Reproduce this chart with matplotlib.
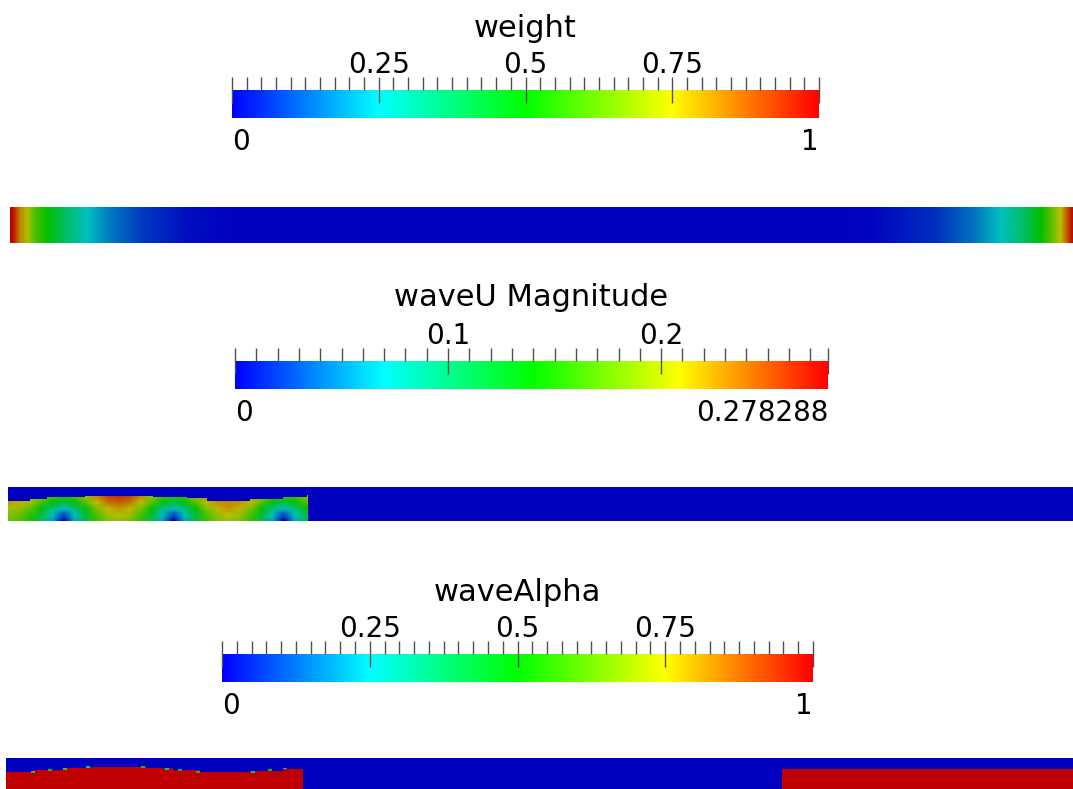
import numpy as np
import matplotlib
matplotlib.use("Agg")
import matplotlib.pyplot as plt
from matplotlib.colors import LinearSegmentedColormap, Normalize, hsv_to_rgb
from matplotlib.image import NonUniformImage
from matplotlib.cm import ScalarMappable
from matplotlib.patches import Rectangle

# ---------------------------------------------------------------- data
# relaxation weight along the flume (position along strip, weight)
weight_x = [0, 3, 6, 10, 17, 25, 37, 55, 77, 100, 130, 175, 230,
            813, 863, 923, 963, 990, 1013, 1030, 1041, 1050, 1055, 1060, 1063]
weight = [1.0, 0.97, 0.90, 0.82, 0.72, 0.60, 0.50, 0.37, 0.25, 0.16, 0.08, 0.02, 0.0,
          0.0, 0.01, 0.06, 0.15, 0.25, 0.37, 0.50, 0.62, 0.75, 0.85, 0.95, 1.0]

# waveU magnitude [m/s] sampled on columns (x) and levels above the bed (z)
waveU_x = [0, 11, 22, 33, 44, 55, 66, 77, 88, 99, 110, 121, 132, 143,
           154, 165, 176, 187, 198, 209, 220, 231, 242, 253, 264, 275, 286, 299]
waveU_z = [0, 6, 12, 18, 25.5]
u_bed = [.178, .170, .148, .108, .061, .000, .061, .114, .159, .186, .195, .186, .159, .114,
         .061, .000, .061, .114, .159, .186, .195, .186, .159, .114, .061, .000, .061, .114]
u_low = [.185, .178, .156, .117, .070, .028, .070, .122, .167, .195, .206, .195, .167, .122,
         .070, .028, .070, .122, .167, .195, .206, .195, .167, .122, .070, .028, .070, .122]
u_mid = [.200, .192, .174, .136, .095, .070, .095, .142, .184, .211, .223, .211, .184, .142,
         .095, .070, .095, .142, .184, .211, .223, .211, .184, .142, .095, .070, .095, .142]
u_upper = [.220, .214, .196, .164, .134, .117, .134, .170, .209, .234, .242, .234, .209, .170,
           .134, .117, .134, .170, .209, .223, .228, .223, .209, .170, .134, .117, .134, .170]
u_top = [.236, .232, .215, .189, .167, .153, .167, .197, .231, .256, .264, .256, .231, .197,
         .167, .153, .167, .197, .231, .239, .245, .239, .231, .197, .167, .153, .167, .197]
waveU_max = 0.278288

# free surface of the waveU field (cell edges, water level per segment)
u_surf_edges = [0, 22, 39, 77, 145, 179, 199, 242, 275, 299]
u_surf_level = [20.3, 22.0, 24.3, 25.3, 24.3, 22.7, 20.3, 22.0, 23.7]

# waveAlpha: water columns (cell edges, water level per segment)
a_left_edges = [0, 27, 57, 81, 141, 167, 194, 244, 277, 297]
a_left_level = [20.7, 23.0, 24.7, 26.3, 24.7, 23.0, 20.7, 22.3, 24.0]
a_right_edges = [776, 1067]
a_right_level = [23.7]
# interface cells holding partial volume fraction
speck_x = [27, 44, 59, 82, 137, 161, 174, 192, 247, 264, 279]
speck_z = [21.3, 23.0, 24.3, 25.9, 25.9, 24.3, 23.0, 21.3, 21.3, 23.0, 24.4]
speck_alpha = [0.35, 0.5, 0.6, 0.3, 0.55, 0.3, 0.5, 0.4, 0.3, 0.5, 0.3]

# ---------------------------------------------------------------- style
W, H = 1073, 789
FONT = "DejaVu Sans"
TICK_COLOR = "#505050"
plt.rcParams["font.family"] = FONT


def rainbow(value):
    hues = np.linspace(2 / 3, 0, 256)
    hsv = np.stack([hues, np.ones(256), np.full(256, value)], axis=1)
    return LinearSegmentedColormap.from_list("rainbow", hsv_to_rgb(hsv))


bar_cmap = rainbow(1.0)     # legend colours
strip_cmap = rainbow(0.75)  # shaded surface colours

fig = plt.figure(figsize=(W / 100, H / 100), dpi=100)
fig.patch.set_facecolor("white")


def px_axes(x0, y0, x1, y1):
    return fig.add_axes([x0 / W, 1 - y1 / H, (x1 - x0) / W, (y1 - y0) / H])


def px_text(x, y, s, **kw):
    fig.text(x / W, 1 - y / H, s, **kw)


def scalar_bar(box, vmax, title, major, major_labels, minor_step, end_label, title_base):
    x0, y0, x1, y1 = box
    ax = px_axes(*box)
    norm = Normalize(0, vmax)
    cb = fig.colorbar(ScalarMappable(norm=norm, cmap=bar_cmap), cax=ax,
                      orientation="horizontal", ticklocation="top")
    cb.outline.set_visible(False)
    cb.set_ticks([0] + major + [vmax], labels=[""] + major_labels + [""])
    n_minor = int(round(vmax / minor_step + 0.5))
    minor = [minor_step * k for k in range(1, n_minor) if minor_step * k < vmax - 1e-9]
    cb.set_ticks(minor, minor=True)
    ax.tick_params(which="major", direction="inout", length=18.3, width=1.0,
                   color=TICK_COLOR, top=True, bottom=False, labeltop=True,
                   labelbottom=False, pad=-1.5, labelsize=20)
    ax.tick_params(which="minor", direction="out", length=9.1, width=1.0,
                   color=TICK_COLOR, top=True, bottom=False)
    px_text((x0 + x1) / 2, title_base, title, ha="center", va="baseline", fontsize=22)
    px_text(x0, y1 + 32, "0", ha="left", va="baseline", fontsize=20)
    px_text(x1, y1 + 32, end_label, ha="right", va="baseline", fontsize=20)
    return ax


def strip_axes(box, length, height):
    ax = px_axes(*box)
    ax.set_xlim(0, length)
    ax.set_ylim(0, height)
    ax.set_facecolor(strip_cmap(0.0))
    ax.set_xticks([])
    ax.set_yticks([])
    for s in ax.spines.values():
        s.set_visible(False)
    return ax


# ---------------------------------------------------------------- weight
scalar_bar((232, 90, 819, 118), 1.0, "weight", [0.25, 0.5, 0.75],
           ["0.25", "0.5", "0.75"], 0.025, "1", 37)
ax1 = strip_axes((10, 208, 1073, 243), 1063, 35)
im1 = NonUniformImage(ax1, interpolation="bilinear", cmap=strip_cmap, norm=Normalize(0, 1))
im1.set_data(np.array(weight_x, float), np.array([0.0, 35.0]),
             np.vstack([weight, weight]))
ax1.add_image(im1)

# ---------------------------------------------------------------- waveU
scalar_bar((235, 361, 828, 389), waveU_max, "waveU Magnitude", [0.1, 0.2],
           ["0.1", "0.2"], 0.01, "0.278288", 306)
ax2 = strip_axes((8, 487, 1073, 521), 1065, 34)
im2 = NonUniformImage(ax2, interpolation="bilinear", cmap=strip_cmap,
                      norm=Normalize(0, waveU_max))
im2.set_data(np.array(waveU_x, float), np.array(waveU_z, float),
             np.array([u_bed, u_low, u_mid, u_upper, u_top]))
ax2.add_image(im2)
im2.set_clip_path(Rectangle((waveU_x[0], waveU_z[0]), waveU_x[-1] - waveU_x[0],
                            waveU_z[-1] - waveU_z[0], transform=ax2.transData))
ax2.stairs(u_surf_level, u_surf_edges, baseline=34, fill=True,
           color=strip_cmap(0.0), linewidth=0)

# ---------------------------------------------------------------- waveAlpha
scalar_bar((222, 654, 813, 682), 1.0, "waveAlpha", [0.25, 0.5, 0.75],
           ["0.25", "0.5", "0.75"], 0.025, "1", 601)
ax3 = strip_axes((6, 758, 1073, 793), 1067, 35)
water = strip_cmap(1.0)
ax3.stairs(a_left_level, a_left_edges, baseline=0, fill=True, color=water, linewidth=0)
ax3.stairs(a_right_level, a_right_edges, baseline=0, fill=True, color=water, linewidth=0)
ax3.bar(speck_x, 1.6, width=4, bottom=np.array(speck_z) - 0.8,
        color=strip_cmap(np.array(speck_alpha)), linewidth=0)

fig.savefig("out.png", dpi=100, facecolor="white")
